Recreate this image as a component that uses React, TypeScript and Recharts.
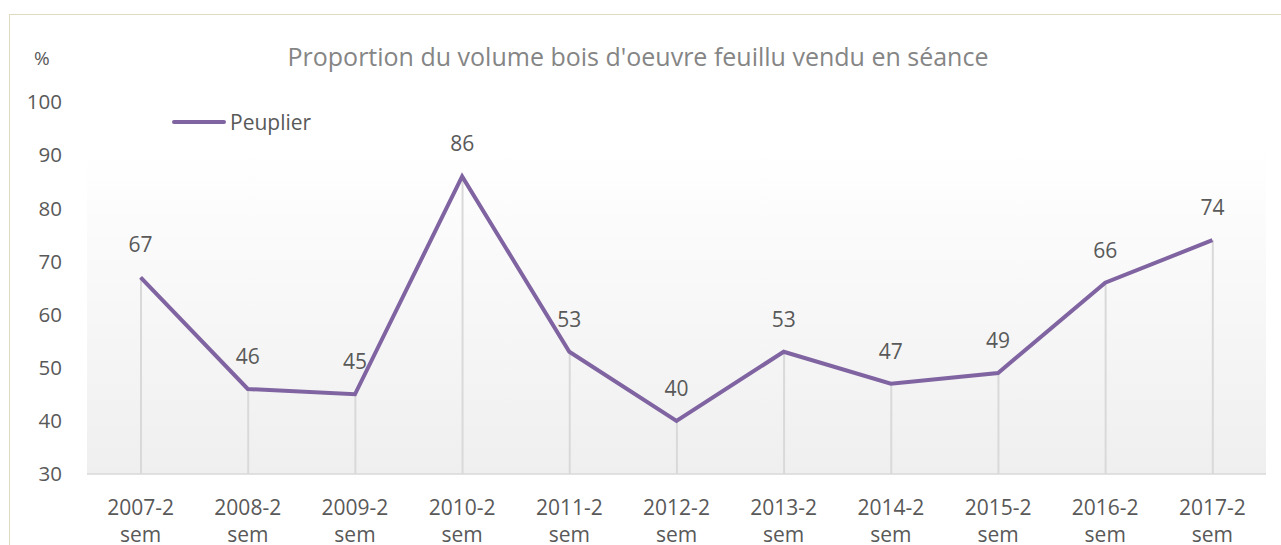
import React from "react";
import { ComposedChart, Line, Bar, XAxis, YAxis, LabelList } from "recharts";

const categories = ["2007-2 sem", "2008-2 sem", "2009-2 sem", "2010-2 sem", "2011-2 sem", "2012-2 sem", "2013-2 sem", "2014-2 sem", "2015-2 sem", "2016-2 sem", "2017-2 sem"];
const peuplier = [67, 46, 45, 86, 53, 40, 53, 47, 49, 66, 74];
const yTicks = [30, 40, 50, 60, 70, 80, 90, 100];
const seriesName = "Peuplier";
const title = "Proportion du volume bois d'oeuvre feuillu vendu en séance";

const data = categories.map((c, i) => ({ cat: c, v: peuplier[i] }));

const FONT = "'Open Sans', sans-serif";
const TXT = "#595959";

const XTick = (props: any) => {
  const { x, y, payload } = props;
  const parts = String(payload.value).split(" ");
  return (
    <g>
      <text x={x} y={y + 41} textAnchor="middle" fill={TXT} fontSize={21} fontFamily={FONT}>{parts[0]}</text>
      <text x={x} y={y + 68} textAnchor="middle" fill={TXT} fontSize={21} fontFamily={FONT}>{parts[1]}</text>
    </g>
  );
};

const ValLabel = (props: any) => {
  const { x, y, value } = props;
  return (
    <text x={x} y={y - 25} textAnchor="middle" fill={TXT} fontSize={21} fontFamily={FONT}>{value}</text>
  );
};

export default function App() {
  return (
    <div style={{ position: "fixed", left: 0, top: 0, width: 1281, height: 545, background: "#fff", fontFamily: FONT, overflow: "hidden" }}>
      <div style={{ position: "absolute", left: 9, top: 14, width: 1280, height: 540, borderTop: "1px solid #e0dbbd", borderLeft: "1px solid #e0dbbd" }} />
      <div style={{ position: "absolute", left: 87, top: 150, width: 1179, height: 324, background: "linear-gradient(to bottom, #ffffff 0%, #efefef 100%)" }} />
      <div style={{ position: "absolute", left: 0, top: 40, width: 1276, textAlign: "center", fontSize: 25, color: "#858585", lineHeight: "32px" }}>{title}</div>
      <div style={{ position: "absolute", left: 34, top: 46, fontSize: 19, color: TXT, lineHeight: "24px" }}>%</div>
      <div style={{ position: "absolute", left: 172, top: 108, height: 28, display: "flex", alignItems: "center" }}>
        <div style={{ width: 54, height: 4, borderRadius: 2, background: "#8064a2" }} />
        <span style={{ marginLeft: 4, fontSize: 21, color: TXT }}>{seriesName}</span>
      </div>
      <div style={{ position: "absolute", left: 0, top: 0 }}>
        <ComposedChart width={1281} height={545} data={data} margin={{ top: 102, right: 15, bottom: 41, left: 0 }}>
          <XAxis dataKey="cat" height={30} tick={<XTick />} tickLine={false} tickSize={0} tickMargin={0} axisLine={{ stroke: "#d9d9d9", strokeWidth: 1.5 }} interval={0} />
          <YAxis domain={[30, 100]} ticks={yTicks} width={87} axisLine={false} tickLine={false} tickSize={0} tickMargin={25} tick={{ fill: TXT, fontSize: 20.5, fontFamily: FONT }} />
          <Bar dataKey="v" barSize={2} fill="#d9d9d9" isAnimationActive={false} legendType="none" />
          <Line dataKey="v" name={seriesName} stroke="#8064a2" strokeWidth={4} dot={false} activeDot={false} isAnimationActive={false}>
            <LabelList dataKey="v" content={<ValLabel />} />
          </Line>
        </ComposedChart>
      </div>
    </div>
  );
}
